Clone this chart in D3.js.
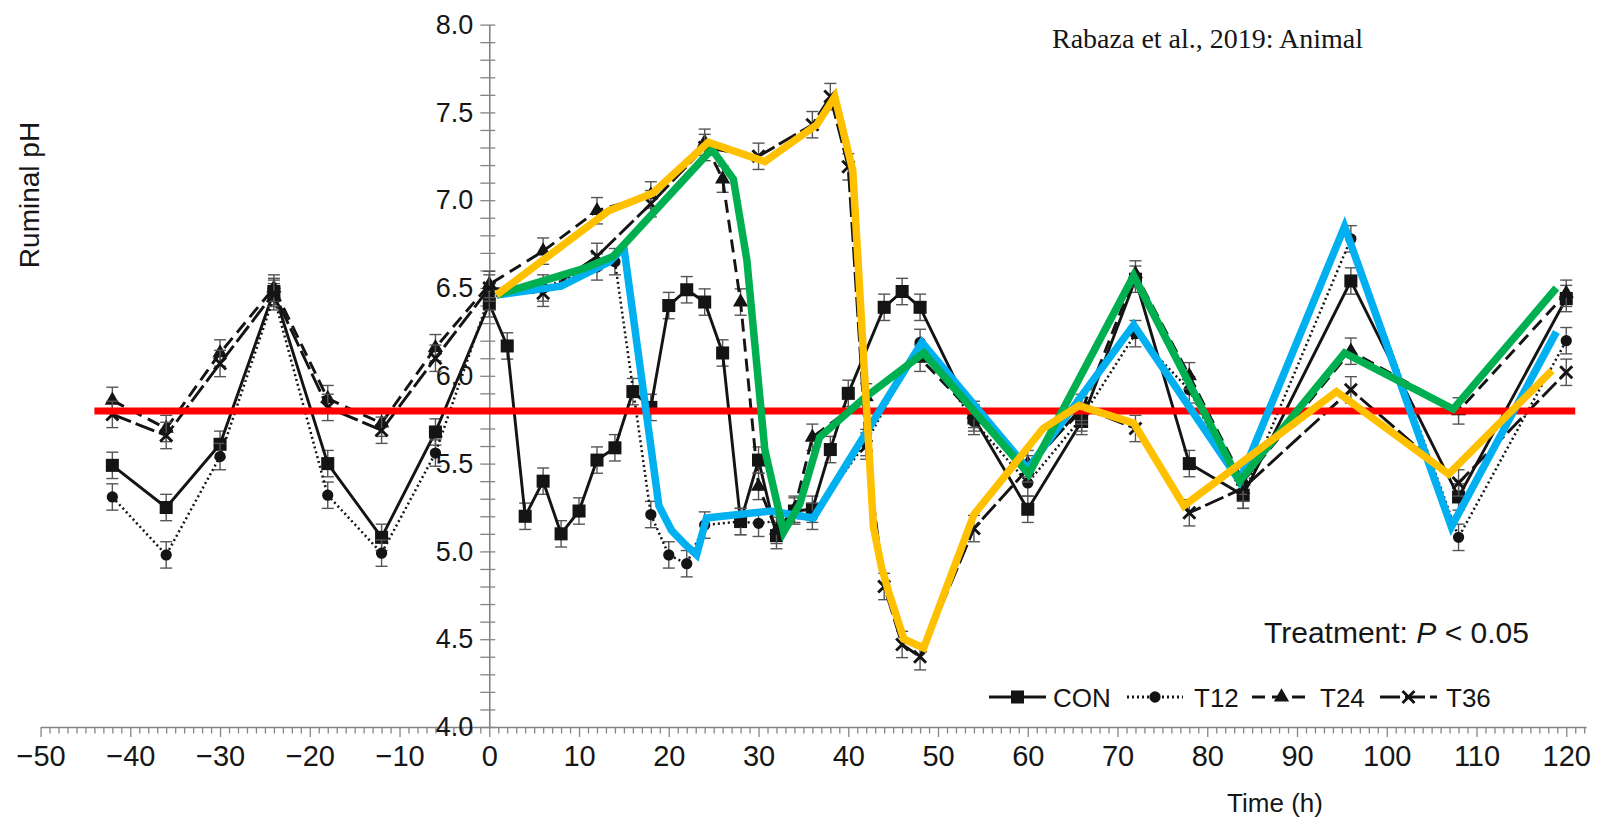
<!DOCTYPE html>
<html>
<head>
<meta charset="utf-8">
<script src="https://cdn.jsdelivr.net/npm/d3@7"></script>
<style>
  html, body { margin: 0; padding: 0; background: #ffffff; }
  svg { display: block; }
  text { font-family: "Liberation Sans", Arial, sans-serif; fill: #161616; }
</style>
</head>
<body>
<svg id="chart" width="1604" height="822"></svg>
<script>
// ---- Mean ruminal pH by sampling time (h) for each treatment ----
const conHours = [-42, -36, -30, -24, -18, -12, -6, 0, 2, 4, 6, 8, 10, 12, 14, 16, 18, 20, 22, 24, 26, 28, 30, 32, 34, 36, 38, 40, 44, 46, 48, 54, 60, 66, 72, 78, 84, 96, 108, 120];
const conPH    = [5.49, 5.25, 5.61, 6.48, 5.50, 5.08, 5.68, 6.41, 6.17, 5.20, 5.40, 5.10, 5.23, 5.52, 5.59, 5.91, 5.82, 6.40, 6.49, 6.42, 6.13, 5.17, 5.52, 5.09, 5.23, 5.24, 5.58, 5.90, 6.39, 6.48, 6.39, 5.76, 5.24, 5.74, 6.55, 5.50, 5.32, 6.54, 5.31, 6.44];

const t12Hours = [-42, -36, -30, -24, -18, -12, -6, 0, 6, 12, 14, 18, 20, 22, 24, 28, 30, 36, 42, 48, 54, 60, 66, 72, 78, 84, 96, 108, 120];
const t12PH    = [5.31, 4.98, 5.54, 6.45, 5.32, 4.99, 5.56, 6.45, 6.50, 6.62, 6.65, 5.21, 4.98, 4.93, 5.15, 5.17, 5.16, 5.20, 5.62, 6.19, 5.74, 5.39, 5.76, 6.24, 5.92, 5.32, 6.78, 5.08, 6.20];

const t24Hours = [-42, -36, -30, -24, -18, -12, -6, 0, 6, 12, 18, 24, 26, 28, 30, 32, 34, 36, 42, 48, 54, 60, 66, 72, 78, 84, 96, 108, 120];
const t24PH    = [5.86, 5.70, 6.13, 6.50, 5.87, 5.73, 6.16, 6.52, 6.71, 6.94, 7.03, 7.33, 7.12, 6.42, 5.37, 5.12, 5.24, 5.65, 5.88, 6.10, 5.78, 5.50, 5.80, 6.58, 6.00, 5.40, 6.14, 5.80, 6.47];

const t36Hours = [-42, -36, -30, -24, -18, -12, -6, 0, 6, 12, 18, 24, 30, 36, 38, 40, 42, 44, 46, 48, 54, 60, 66, 72, 78, 84, 96, 108, 120];
const t36PH    = [5.78, 5.66, 6.07, 6.47, 5.82, 5.69, 6.10, 6.50, 6.47, 6.68, 6.98, 7.30, 7.25, 7.43, 7.59, 7.19, 5.60, 4.80, 4.47, 4.40, 5.13, 5.47, 5.82, 5.70, 5.22, 5.36, 5.92, 5.39, 6.02];

// Standard error of the means (pH units)
const semPH = 0.075;

// Highlighted pattern traces drawn over the treatments: [time (h), pH]
const t12Trace = [[0.8, 6.46], [8.0, 6.51], [13.4, 6.65], [15.0, 6.73], [18.9, 5.26], [20.3, 5.12], [21.8, 5.04], [23.1, 4.98], [24.2, 5.19], [31.3, 5.23], [36.1, 5.19], [48.2, 6.19], [60.0, 5.47], [71.8, 6.29], [83.6, 5.40], [95.3, 6.85], [107.2, 5.14], [118.9, 6.25]];
const t24Trace = [[0.8, 6.46], [10.5, 6.61], [13.8, 6.68], [24.8, 7.29], [27.2, 7.12], [28.7, 6.66], [30.7, 5.58], [32.8, 5.11], [34.6, 5.27], [36.8, 5.65], [41.7, 5.87], [48.4, 6.13], [60.1, 5.44], [71.8, 6.57], [83.6, 5.40], [95.3, 6.13], [107.4, 5.81], [118.9, 6.50]];
const t36Trace = [[0.8, 6.46], [13.3, 6.94], [18.2, 7.04], [24.4, 7.33], [30.7, 7.22], [36.5, 7.43], [38.5, 7.59], [40.5, 7.17], [42.8, 5.14], [43.7, 4.91], [44.5, 4.77], [46.2, 4.50], [48.4, 4.45], [54.0, 5.21], [61.7, 5.70], [65.7, 5.83], [71.8, 5.73], [77.4, 5.26], [94.4, 5.91], [106.9, 5.44], [118.4, 6.03]];

// Subacute ruminal acidosis threshold
const sarpThreshold = 5.8;
const thresholdHours = [-44, 121];

// Axis ticks
const yTicks = d3.range(40, 81).map(d => d / 10);
const yTickLabels = [4.0, 4.5, 5.0, 5.5, 6.0, 6.5, 7.0, 7.5, 8.0];
const xTicks = d3.range(-50, 123);
const xTickLabels = d3.range(-50, 121, 10);

const legendNames = ["CON", "T12", "T24", "T36"];

// ---- Drawing ----
const svg = d3.select("#chart");
svg.append("rect").attr("width", 1604).attr("height", 822).attr("fill", "#ffffff");

const x = d3.scaleLinear().domain([-50, 122.2]).range([40.55, 1586]);
const y = d3.scaleLinear().domain([4, 8]).range([727, 24.6]);

const axisGrey = "#858585";
const ink = "#141414";

// X axis: a minor tick each hour, labelled every 10 h
const xAxis = d3.axisBottom(x)
  .tickValues(xTicks)
  .tickSizeInner(6)
  .tickSizeOuter(0)
  .tickPadding(12)
  .tickFormat(d => xTickLabels.includes(d) ? d3.format("d")(d) : "");
const gx = svg.append("g").attr("transform", `translate(0,${y(4)})`).call(xAxis);
gx.select(".domain").attr("stroke", axisGrey).attr("stroke-width", 1.6);
gx.selectAll(".tick line")
  .attr("stroke", axisGrey).attr("stroke-width", 1.3)
  .attr("y2", d => (d % 10 === 0 ? 10 : 6.5));
gx.selectAll(".tick text")
  .attr("fill", ink).style("font-size", "29px");

// Y axis drawn at time 0, ticks every 0.1 crossing the line
const isLabelled = v => yTickLabels.some(l => Math.abs(l - v) < 1e-6);
const yAxis = d3.axisLeft(y)
  .tickValues(yTicks)
  .tickSizeInner(9)
  .tickSizeOuter(0)
  .tickPadding(7)
  .tickFormat(d => isLabelled(d) ? d3.format(".1f")(d) : "");
const gy = svg.append("g").attr("transform", `translate(${x(0)},0)`).call(yAxis);
gy.select(".domain").attr("stroke", axisGrey).attr("stroke-width", 1.6);
gy.selectAll(".tick line")
  .attr("stroke", axisGrey).attr("stroke-width", 1.3)
  .attr("x1", 6);
gy.selectAll(".tick text")
  .attr("fill", ink).style("font-size", "27px");

// Treatment series
const series = [
  { name: "CON", hours: conHours, ph: conPH, dash: null,   width: 2.9, marker: "square" },
  { name: "T12", hours: t12Hours, ph: t12PH, dash: "2,3",  width: 2.5, marker: "circle" },
  { name: "T24", hours: t24Hours, ph: t24PH, dash: "13,7", width: 2.9, marker: "triangle" },
  { name: "T36", hours: t36Hours, ph: t36PH, dash: "20,5", width: 2.9, marker: "cross" }
];

function markerPath(kind) {
  if (kind === "square") return d3.symbol().type(d3.symbolSquare).size(170)();
  if (kind === "circle") return d3.symbol().type(d3.symbolCircle).size(100)();
  if (kind === "triangle") return d3.symbol().type(d3.symbolTriangle).size(100)();
  return "M-6,-6L6,6M-6,6L6,-6";
}
function styleMarker(sel, kind) {
  if (kind === "cross") {
    sel.attr("fill", "none").attr("stroke", ink).attr("stroke-width", 2.9);
  } else {
    sel.attr("fill", ink).attr("stroke", "none");
  }
}

const line = d3.line().x(d => x(d[0])).y(d => y(d[1]));

const gSeries = svg.append("g");
series.forEach(s => {
  const pts = s.hours.map((h, i) => [h, s.ph[i]]);
  const g = gSeries.append("g").attr("class", "series-" + s.name);

  // error bars
  const eb = g.append("g").attr("stroke", "#555").attr("stroke-width", 1.4);
  pts.forEach(p => {
    const cx = x(p[0]);
    eb.append("line").attr("x1", cx).attr("x2", cx).attr("y1", y(p[1] - semPH)).attr("y2", y(p[1] + semPH));
    eb.append("line").attr("x1", cx - 6).attr("x2", cx + 6).attr("y1", y(p[1] - semPH)).attr("y2", y(p[1] - semPH));
    eb.append("line").attr("x1", cx - 6).attr("x2", cx + 6).attr("y1", y(p[1] + semPH)).attr("y2", y(p[1] + semPH));
  });

  g.append("path")
    .attr("d", line(pts))
    .attr("fill", "none")
    .attr("stroke", ink)
    .attr("stroke-width", s.width)
    .attr("stroke-dasharray", s.dash)
    .attr("stroke-linejoin", "round");

  g.selectAll("path.mk").data(pts).join("path")
    .attr("class", "mk")
    .attr("d", markerPath(s.marker))
    .attr("transform", d => `translate(${x(d[0])},${y(d[1])})`)
    .call(styleMarker, s.marker);
});

// Threshold and highlighted traces
svg.append("line")
  .attr("x1", x(thresholdHours[0])).attr("x2", x(thresholdHours[1]))
  .attr("y1", y(sarpThreshold)).attr("y2", y(sarpThreshold))
  .attr("stroke", "#ff0000").attr("stroke-width", 7);

const traces = [
  { data: t12Trace, color: "#00b0f0" },
  { data: t24Trace, color: "#00b050" },
  { data: t36Trace, color: "#ffc000" }
];
traces.forEach(t => {
  svg.append("path")
    .attr("d", line(t.data))
    .attr("fill", "none")
    .attr("stroke", t.color)
    .attr("stroke-width", 7.5)
    .attr("stroke-linejoin", "miter")
    .attr("stroke-miterlimit", 3);
});

// Axis titles
svg.append("text")
  .attr("transform", "translate(39,195) rotate(-90)")
  .attr("text-anchor", "middle")
  .style("font-size", "28px")
  .text("Ruminal pH");

svg.append("text")
  .attr("x", 1275).attr("y", 812)
  .attr("text-anchor", "middle")
  .style("font-size", "26px")
  .text("Time (h)");

// Source note
svg.append("text")
  .attr("x", 1052).attr("y", 48)
  .style("font-family", "'Liberation Serif', 'Times New Roman', serif")
  .style("font-size", "28px")
  .text("Rabaza et al., 2019: Animal");

// Statistics note
const stat = svg.append("text")
  .attr("x", 1264).attr("y", 643)
  .style("font-size", "30px");
stat.append("tspan").text("Treatment: ");
stat.append("tspan").style("font-style", "italic").text("P");
stat.append("tspan").text(" < 0.05");

// Legend
const legendY = 697;
const legendItems = [
  { x0: 989,  x1: 1046, tx: 1053 },
  { x0: 1127, x1: 1183, tx: 1194 },
  { x0: 1252, x1: 1311, tx: 1320 },
  { x0: 1380, x1: 1437, tx: 1446 }
];
const gl = svg.append("g");
legendNames.forEach((name, i) => {
  const s = series[i], pos = legendItems[i];
  gl.append("line")
    .attr("x1", pos.x0).attr("x2", pos.x1)
    .attr("y1", legendY).attr("y2", legendY)
    .attr("stroke", ink).attr("stroke-width", s.width + 0.3)
    .attr("stroke-dasharray", s.dash);
  gl.append("path")
    .attr("d", markerPath(s.marker))
    .attr("transform", `translate(${(pos.x0 + pos.x1) / 2},${legendY})`)
    .call(styleMarker, s.marker);
  gl.append("text")
    .attr("x", pos.tx).attr("y", legendY + 9.5)
    .style("font-size", "26px")
    .text(name);
});
</script>
</body>
</html>
